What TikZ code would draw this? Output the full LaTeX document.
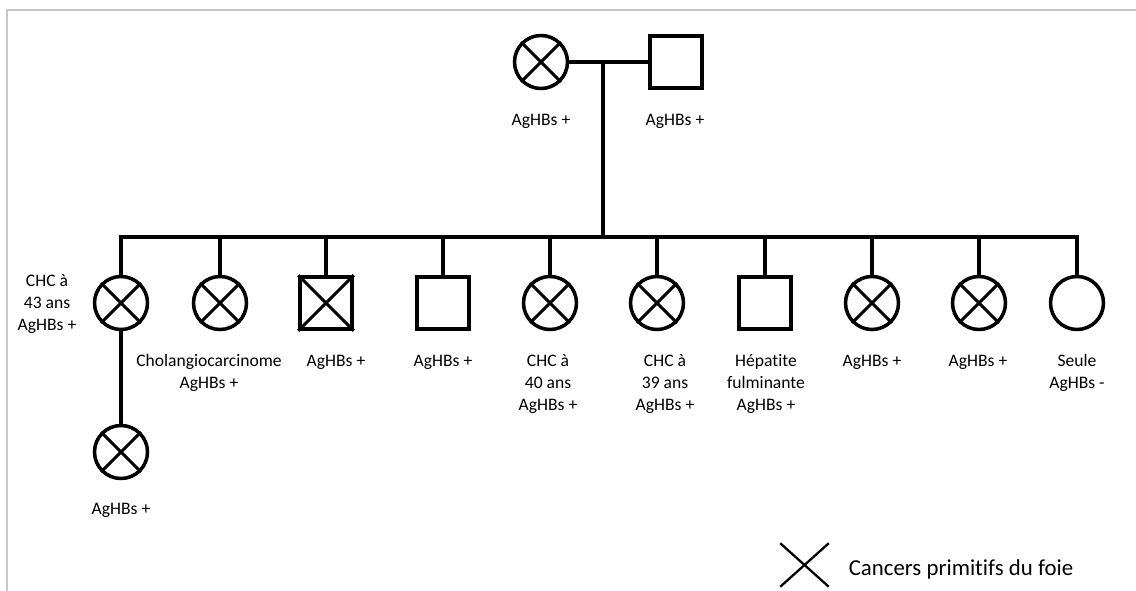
\documentclass[tikz,border=0pt]{standalone}
\usepackage{fontspec}
\setmainfont{Carlito}[Ligatures=NoCommon]
\begin{document}
\begin{tikzpicture}[x=0.02cm,y=-0.02cm,line width=2pt,
  fem/.style={draw,circle,minimum size=1.06cm,inner sep=0pt},
  mal/.style={draw,rectangle,minimum size=1.04cm,inner sep=0pt},
  lab/.style={anchor=north,align=center,inner sep=0pt,
    font=\fontsize{10}{12.5}\selectfont}]
  \useasboundingbox (0,0) rectangle (1136,591);
  \draw[line width=1.1pt,black!22] (7,591) -- (7,10) -- (1136,10);
  % parents
  \node[fem] (m) at (541,62) {};
  \node[mal] (f) at (676,62) {};
  \coordinate (mf) at (603,62);
  \coordinate (sib) at (603,237);
  \draw (m) -- (f);
  \draw (mf) -- (sib);
  % children
  \node[fem] (c1) at (121,303) {};
  \node[fem] (c2) at (220,303) {};
  \node[mal] (c3) at (326,303) {};
  \node[mal] (c4) at (443,303) {};
  \node[fem] (c5) at (550,303) {};
  \node[fem] (c6) at (657,303) {};
  \node[mal] (c7) at (765,303) {};
  \node[fem] (c8) at (872,303) {};
  \node[fem] (c9) at (979,303) {};
  \node[fem] (c10) at (1077,303) {};
  \draw (c1.north) -- (c1 |- sib) -- (c10 |- sib) -- (c10.north);
  \draw (c2 |- sib) -- (c2);
  \draw (c3 |- sib) -- (c3);
  \draw (c4 |- sib) -- (c4);
  \draw (c5 |- sib) -- (c5);
  \draw (c6 |- sib) -- (c6);
  \draw (c7 |- sib) -- (c7);
  \draw (c8 |- sib) -- (c8);
  \draw (c9 |- sib) -- (c9);
  % grandchild
  \node[fem] (g1) at (121,452) {};
  \draw (c1) -- (g1);
  % crosses
  \draw[line width=1.8pt] (m.north west) -- (m.south east) (m.north east) -- (m.south west);
  \draw[line width=1.8pt] (c1.north west) -- (c1.south east) (c1.north east) -- (c1.south west);
  \draw[line width=1.8pt] (c2.north west) -- (c2.south east) (c2.north east) -- (c2.south west);
  \draw[line width=1.8pt] (c3.north west) -- (c3.south east) (c3.north east) -- (c3.south west);
  \draw[line width=1.8pt] (c5.north west) -- (c5.south east) (c5.north east) -- (c5.south west);
  \draw[line width=1.8pt] (c6.north west) -- (c6.south east) (c6.north east) -- (c6.south west);
  \draw[line width=1.8pt] (c8.north west) -- (c8.south east) (c8.north east) -- (c8.south west);
  \draw[line width=1.8pt] (c9.north west) -- (c9.south east) (c9.north east) -- (c9.south west);
  \draw[line width=1.8pt] (g1.north west) -- (g1.south east) (g1.north east) -- (g1.south west);
  % labels
  \node[lab] (lm) at (541,112) {AgHBs +};
  \node[lab] (lf) at (675,112) {AgHBs +};
  \node[lab] (l1) at (47,273) {CHC à\\43 ans\\AgHBs +};
  \node[lab] (l2) at (209,353) {Cholangiocarcinome\\AgHBs +};
  \node[lab] (l3) at (336,353) {AgHBs +};
  \node[lab] (l4) at (443,353) {AgHBs +};
  \node[lab] (l5) at (548,353) {CHC à\\40 ans\\AgHBs +};
  \node[lab] (l6) at (665,353) {CHC à\\39 ans\\AgHBs +};
  \node[lab] (l7) at (766,353) {Hépatite\\fulminante\\AgHBs +};
  \node[lab] (l8) at (872,353) {AgHBs +};
  \node[lab] (l9) at (978,353) {AgHBs +};
  \node[lab] (l10) at (1077,353) {Seule\\AgHBs -};
  \node[lab] (lg) at (121,501) {AgHBs +};
  % legend
  \node[minimum width=0.9cm,minimum height=0.8cm,inner sep=0pt] (lx) at (804.5,565) {};
  \draw[line width=1.3pt] (lx.north west) -- (lx.south east) (lx.north east) -- (lx.south west);
  \node[anchor=base west,inner sep=0pt,font=\fontsize{13}{15}\selectfont] (lt) at (847,575) {Cancers primitifs du foie};
\end{tikzpicture}
\end{document}
